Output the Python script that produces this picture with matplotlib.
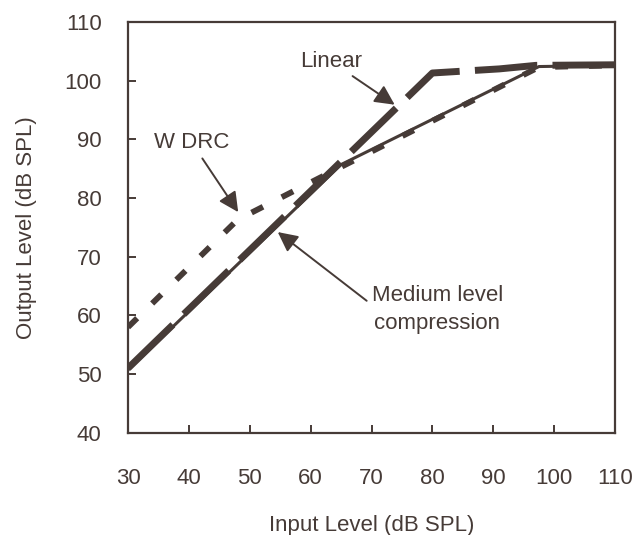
import matplotlib
matplotlib.use("agg")
import matplotlib.pyplot as plt

plt.rcParams["font.family"] = ["Liberation Sans", "DejaVu Sans"]

ink = "#463b37"

# input / output levels (dB SPL)
linear_in = [30, 80, 91, 97, 110]
linear_out = [51, 101.3, 102.0, 102.6, 102.7]

compression_in = [30, 65, 97.5, 110]
compression_out = [50.7, 85.7, 102.4, 102.6]

wdrc_in = [30, 48, 65, 97.5, 110]
wdrc_out = [58, 76.3, 85.3, 102.3, 102.6]

x_ticks = [30, 40, 50, 60, 70, 80, 90, 100, 110]
y_ticks = [40, 50, 60, 70, 80, 90, 100, 110]

fig = plt.figure(figsize=(6.4, 5.35), dpi=100)
ax = fig.add_axes([0.2, 0.191, 0.761, 0.768])

ax.plot(compression_in, compression_out, color=ink, lw=2.2, solid_capstyle="butt")
ax.plot(linear_in, linear_out, color=ink, lw=5.0, dashes=(9, 2.2),
        solid_capstyle="butt", dash_capstyle="butt")
ax.plot(wdrc_in, wdrc_out, color=ink, lw=4.2, dashes=(2.2, 3.6),
        dash_capstyle="butt")

ax.set_xlim(30, 110)
ax.set_ylim(40, 110)
ax.set_xticks(x_ticks)
ax.set_yticks(y_ticks)
ax.tick_params(direction="in", length=6, width=1.4, color=ink,
               labelsize=16, labelcolor=ink)
ax.tick_params(axis="x", pad=25)
ax.tick_params(axis="y", pad=19)
for s in ax.spines.values():
    s.set_color(ink)
    s.set_linewidth(1.6)

ax.set_xlabel("Input Level (dB SPL)", fontsize=16, color=ink, labelpad=19)
ax.set_ylabel("Output Level (dB SPL)", fontsize=16, color=ink, labelpad=20)

arrow = dict(arrowstyle="-|>", color=ink, lw=1.4, mutation_scale=30,
             shrinkA=2, shrinkB=0)
ax.annotate("Linear", xy=(73.8, 95.9), xytext=(63.3, 103.3),
            ha="center", va="center", fontsize=16, color=ink,
            arrowprops=arrow)
ax.annotate("W DRC", xy=(48.1, 77.6), xytext=(40.5, 89.4),
            ha="center", va="center", fontsize=16, color=ink,
            arrowprops=arrow)
ax.annotate("Medium level\ncompression", xy=(54.6, 74.2), xytext=(80.8, 61.0),
            ha="center", va="center", fontsize=16, color=ink,
            linespacing=1.45, arrowprops=dict(arrow, relpos=(0, 0.6)))

fig.savefig("out.png", dpi=100, facecolor="white")
